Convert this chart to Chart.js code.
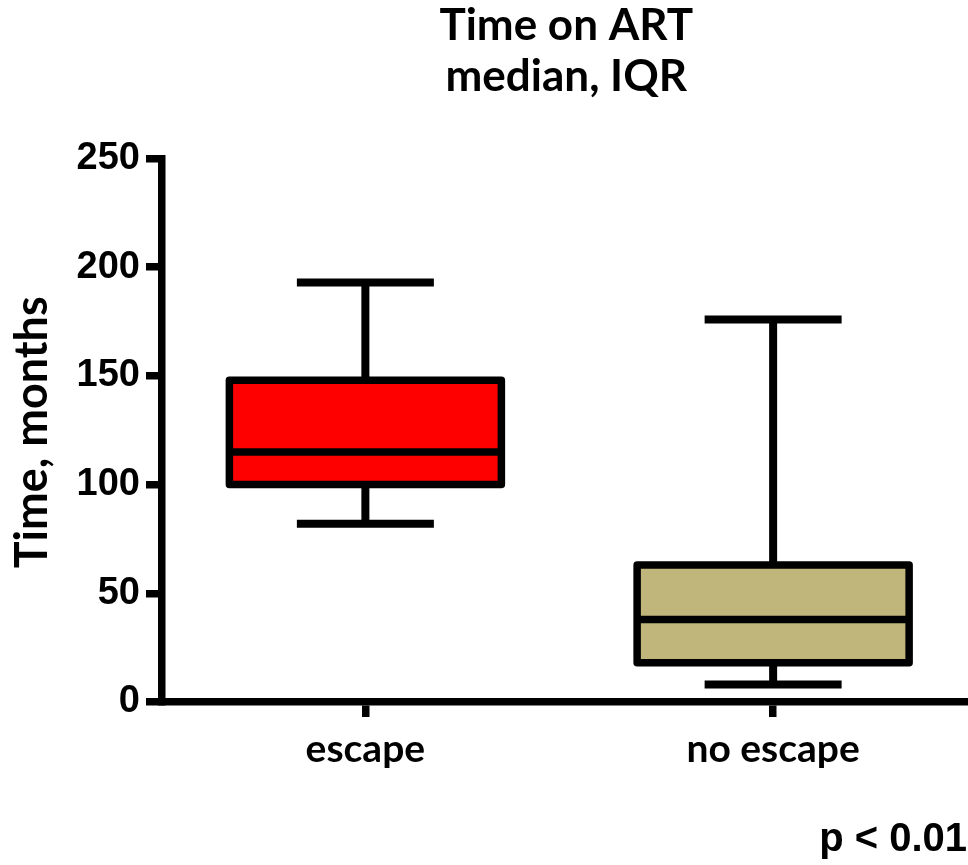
<!DOCTYPE html>
<html>
<head>
<meta charset="utf-8">
<script src="https://cdn.jsdelivr.net/npm/chart.js@4.4.1/dist/chart.umd.min.js"></script>
<style>
  html, body { margin: 0; padding: 0; background: #fff; overflow: hidden; width: 968px; height: 865px; }
  canvas { display: block; }
</style>
</head>
<body>
<canvas id="chart" width="980" height="865"></canvas>
<script>
// Box plot statistics per group (months on ART)
const groups = ['escape', 'no escape'];
const whiskerLow = [82, 8];
const q1 = [100, 18];
const medians = [115, 38];
const q3 = [148, 63];
const whiskerHigh = [193, 176];
const boxColors = ['#FF0000', '#C0B67C'];
const yTicks = [0, 50, 100, 150, 200, 250];

const titleLines = ['Time on ART', 'median, IQR'];
const yTitle = 'Time, months';
const pLabel = 'p < 0.01';

const BOX_W = 272;      // box width, px
const CAP_W = 137;      // whisker cap width, px
const LINE_W = 7.5;     // stroke width of box outline, median, axes
const WHISKER_W = 8;

const calibriLike = 'Lato, "Open Sans", sans-serif';
const arialLike = '"Liberation Sans", Arial, sans-serif';

// Whiskers, box outlines, medians and free text
const boxPlotParts = {
  id: 'boxPlotParts',
  beforeDatasetsDraw(chart) {
    const { ctx, scales: { x, y } } = chart;
    ctx.save();
    ctx.strokeStyle = '#000';
    ctx.lineWidth = WHISKER_W;
    ctx.lineCap = 'butt';
    groups.forEach((g, i) => {
      const cx = x.getPixelForValue(i);
      ctx.beginPath();
      ctx.moveTo(cx, y.getPixelForValue(q3[i]));
      ctx.lineTo(cx, y.getPixelForValue(whiskerHigh[i]));
      ctx.moveTo(cx, y.getPixelForValue(q1[i]));
      ctx.lineTo(cx, y.getPixelForValue(whiskerLow[i]));
      ctx.stroke();
      [whiskerHigh[i], whiskerLow[i]].forEach(v => {
        const py = y.getPixelForValue(v);
        ctx.beginPath();
        ctx.moveTo(cx - CAP_W / 2, py);
        ctx.lineTo(cx + CAP_W / 2, py);
        ctx.stroke();
      });
    });
    ctx.restore();
  },
  afterDatasetsDraw(chart) {
    const { ctx, scales: { x, y } } = chart;
    ctx.save();
    ctx.strokeStyle = '#000';
    groups.forEach((g, i) => {
      const cx = x.getPixelForValue(i);
      const top = y.getPixelForValue(q3[i]);
      const bottom = y.getPixelForValue(q1[i]);
      const med = y.getPixelForValue(medians[i]);
      ctx.lineWidth = LINE_W;
      ctx.lineCap = 'butt';
      ctx.beginPath();
      ctx.moveTo(cx - BOX_W / 2, med);
      ctx.lineTo(cx + BOX_W / 2, med);
      ctx.stroke();
      ctx.lineJoin = 'round';
      ctx.strokeRect(cx - BOX_W / 2, top, BOX_W, bottom - top);
    });
    ctx.restore();
  },
  afterDraw(chart) {
    const { ctx, chartArea } = chart;
    ctx.save();
    ctx.fillStyle = '#000';
    // Title
    ctx.font = 'bold 44px ' + calibriLike;
    ctx.textAlign = 'center';
    ctx.textBaseline = 'alphabetic';
    const tx = (chartArea.left + chartArea.right) / 2 - 3;
    ctx.fillText(titleLines[0], tx, 40);
    ctx.fillText(titleLines[1], tx, 91);
    // Y axis title
    ctx.save();
    ctx.translate(47, (chartArea.top + chartArea.bottom) / 2 + 2);
    ctx.rotate(-Math.PI / 2);
    ctx.font = 'bold 45px ' + calibriLike;
    ctx.textAlign = 'center';
    ctx.fillText(yTitle, 0, 0);
    ctx.restore();
    // Significance note
    ctx.font = 'bold 40px ' + arialLike;
    ctx.textAlign = 'right';
    ctx.fillText(pLabel, 967, 851);
    ctx.restore();
  }
};

new Chart(document.getElementById('chart'), {
  type: 'bar',
  data: {
    labels: groups,
    datasets: [{
      data: groups.map((g, i) => [q1[i], q3[i]]),
      backgroundColor: boxColors,
      borderWidth: 0,
      borderSkipped: false,
      barThickness: BOX_W,
      inflateAmount: 0
    }]
  },
  options: {
    responsive: false,
    animation: false,
    events: [],
    layout: { padding: { top: 158.5, right: 3, bottom: 0, left: 0 } },
    plugins: { legend: { display: false }, tooltip: { enabled: false }, title: { display: false } },
    scales: {
      x: {
        offset: true,
        grid: { display: true, drawOnChartArea: false, drawTicks: true, tickLength: 15, lineWidth: LINE_W, color: '#000', offset: false },
        border: { display: true, color: '#000', width: LINE_W },
        ticks: { color: '#000', padding: 9, font: { family: calibriLike, size: 39, weight: 'bold' }, maxRotation: 0 },
        afterFit(scale) { scale.height = 163; }
      },
      y: {
        min: 0,
        max: 250,
        afterBuildTicks(scale) { scale.ticks = yTicks.map(v => ({ value: v })); },
        grid: { display: true, drawOnChartArea: false, drawTicks: true, tickLength: 15.5, lineWidth: LINE_W, color: '#000' },
        border: { display: true, color: '#000', width: LINE_W },
        ticks: { color: '#000', padding: 6, font: { family: arialLike, size: 38, weight: 'bold' } },
        afterFit(scale) { scale.width = 161.5; }
      }
    }
  },
  plugins: [boxPlotParts]
});
</script>
</body>
</html>
